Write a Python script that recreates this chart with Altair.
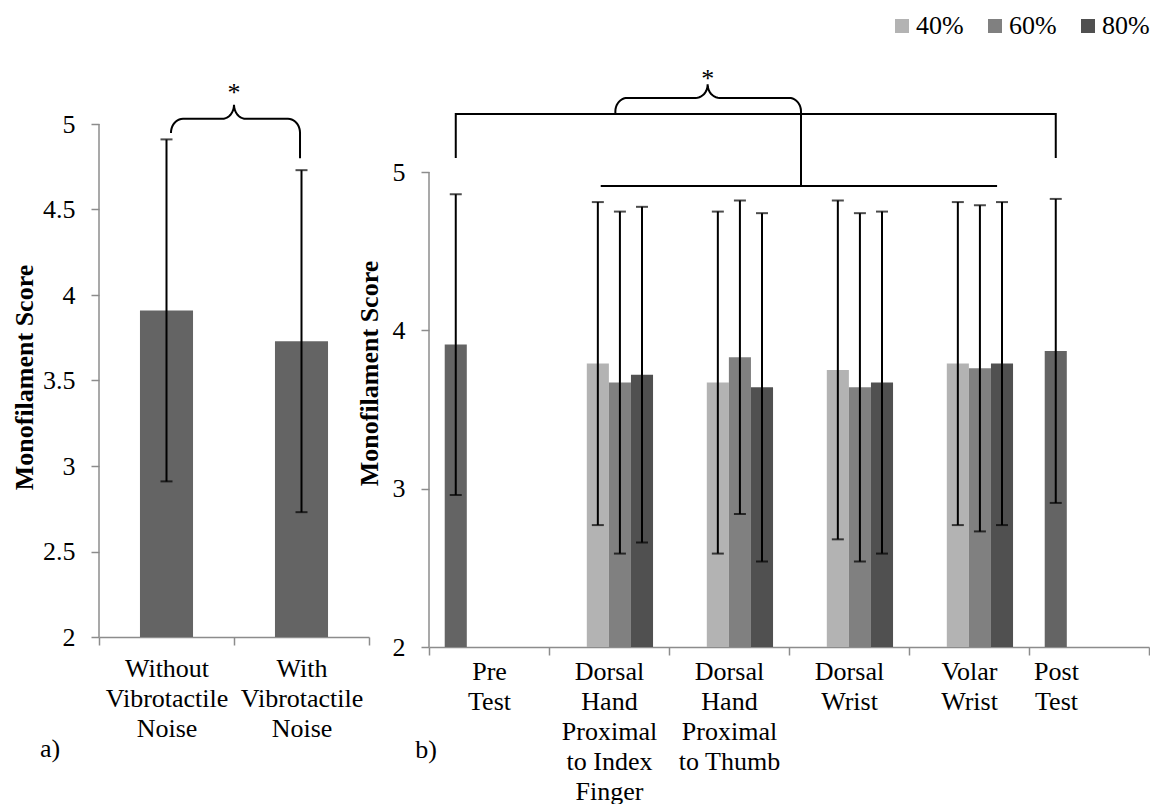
import math
import altair as alt
import pandas as pd

FONT = "Liberation Serif, Times New Roman, Times, serif"
AXIS_GRAY = "#8c8c8c"

# ---------------- panel a) data ----------------
a_conditions = ["Without|Vibrotactile|Noise", "With|Vibrotactile|Noise"]
a_means = [3.91, 3.73]
a_sd = [1.00, 1.00]
a_ticks = [2, 2.5, 3, 3.5, 4, 4.5, 5]

# ---------------- panel b) data ----------------
b_locations = [
    "Pre|Test",
    "Dorsal|Hand|Proximal|to Index|Finger",
    "Dorsal|Hand|Proximal|to Thumb",
    "Dorsal|Wrist",
    "Volar|Wrist",
    "Post|Test",
]
series_names = ["Pre/Post", "40%", "60%", "80%"]
series_colors = ["#646464", "#b3b3b3", "#808080", "#505050"]
legend_values = ["40%", "60%", "80%"]
prepost_means = [3.91, 3.87]
prepost_sd = [0.95, 0.96]
pct40_means = [3.79, 3.67, 3.75, 3.79]
pct40_sd = [1.02, 1.08, 1.07, 1.02]
pct60_means = [3.67, 3.83, 3.64, 3.76]
pct60_sd = [1.08, 0.99, 1.10, 1.03]
pct80_means = [3.72, 3.64, 3.67, 3.79]
pct80_sd = [1.06, 1.10, 1.08, 1.02]
b_ticks = [2, 3, 4, 5]

# ---------------- layout ----------------
A_W, A_H = 270, 561
B_W, B_H = 720, 571
A_YMAX = 2 + 3 * A_H / 513
B_YMAX = 2 + 3 * B_H / 475
A_BAR = 0.393            # bar width as fraction of a category band
B_GAP, B_SLOT = 0.131, 0.184
FS = 26

# ---------------- tables ----------------
df_a = pd.DataFrame({"condition": a_conditions, "mean": a_means, "sd": a_sd})
df_a["center"] = [i + 0.5 for i in range(len(a_conditions))]
df_a["left"] = df_a["center"] - A_BAR / 2
df_a["right"] = df_a["center"] + A_BAR / 2
df_a["lo"] = df_a["mean"] - df_a["sd"]
df_a["hi"] = df_a["mean"] + df_a["sd"]

rows = []


def add(cat, slot, mean, sd):
    left = cat + B_GAP + slot * B_SLOT
    rows.append(dict(location=b_locations[cat], series=series_names[slot], mean=mean,
                     lo=mean - sd, hi=mean + sd, left=left, right=left + B_SLOT,
                     center=left + B_SLOT / 2))


add(0, 0, prepost_means[0], prepost_sd[0])
for k in range(4):
    add(k + 1, 1, pct40_means[k], pct40_sd[k])
    add(k + 1, 2, pct60_means[k], pct60_sd[k])
    add(k + 1, 3, pct80_means[k], pct80_sd[k])
add(5, 0, prepost_means[1], prepost_sd[1])
df_b = pd.DataFrame(rows)


def brace(xa, ya, xd, yd, xc, yb, rx, ry, n=10):
    pts = [(xa, ya), (xa, yb - ry)]

    def arc(cx, cy, t0, t1):
        for k in range(1, n + 1):
            t = math.radians(t0 + (t1 - t0) * k / n)
            pts.append((cx + rx * math.cos(t), cy + ry * math.sin(t)))

    arc(xa + rx, yb - ry, 180, 90)
    pts.append((xc - rx, yb))
    arc(xc - rx, yb + ry, -90, 0)
    arc(xc + rx, yb + ry, 180, 270)
    pts.append((xd - rx, yb))
    arc(xd - rx, yb - ry, 90, 0)
    pts.append((xd, yd))
    return pts


def paths_df(paths):
    recs = []
    for pid, pts in enumerate(paths):
        for o, (x, y) in enumerate(pts):
            recs.append({"path": pid, "ord": o, "x": x, "y": y})
    return pd.DataFrame(recs)


a_paths = paths_df([brace(0.533, 4.947, 1.489, 4.80, 1.0, 5.03, 12 / 135, 0.082)])
pre_c = df_b["center"].iloc[0]
post_c = df_b["center"].iloc[-1]
b_paths = paths_df([
    [(pre_c, 5.089), (pre_c, 5.367), (post_c, 5.367), (post_c, 5.089)],
    [(1.431, 4.912), (4.734, 4.912)],
    [(3.10, 4.912), (3.10, 5.367)],
    brace(1.553, 5.367, 3.10, 5.367, 2.322, 5.468, 0.1, 0.085),
])
a_star = pd.DataFrame({"x": [1.0], "y": [5.18], "t": ["*"]})
b_star = pd.DataFrame({"x": [2.322], "y": [5.588], "t": ["*"]})
axis_span = pd.DataFrame({"y0": [2], "y1": [5]})


def x_axis(padding):
    return alt.Axis(title=None,
                    labelExpr="isValid(datum.value) ? split(datum.value, '|') : ''",
                    labelAngle=0, labelFont=FONT, labelFontSize=FS, labelColor="black",
                    labelLineHeight=30, labelBaseline="top", labelPadding=padding,
                    labelOverlap=False, labelLimit=400, tickBand="extent", tickSize=8,
                    tickColor=AXIS_GRAY, tickWidth=1.5, domainColor=AXIS_GRAY,
                    domainWidth=1.5, grid=False,
                    labelOffset={"condition": {"test": "datum.value == 'Post|Test'", "value": -33},
                                 "value": 0})


def y_axis(values, title_x, title_y):
    return alt.Axis(values=values, format="~g", domain=False, tickSize=8, tickColor=AXIS_GRAY,
                    tickWidth=1.5, labelFont=FONT, labelFontSize=FS, labelColor="black",
                    labelPadding=16, grid=False, title="Monofilament Score", titleFont=FONT,
                    titleFontSize=FS, titleFontWeight="bold", titleColor="black",
                    titleAngle=270, titleX=title_x, titleY=title_y, titleAlign="center",
                    titleBaseline="middle")


def panel(df, cats, ncat, width, height, ymax, yvals, title_x, title_y, paths, star,
          label_pad, tag, tag_pos, color_enc):
    xq = alt.Scale(domain=[0, ncat], nice=False, zero=False)
    yq = alt.Scale(domain=[2, ymax], nice=False, zero=False)
    axis_layer = alt.Chart(pd.DataFrame({"cat": cats})).mark_bar(opacity=0).encode(
        x=alt.X("cat:N", sort=cats,
                scale=alt.Scale(type="band", paddingInner=0, paddingOuter=0),
                axis=x_axis(label_pad)))
    base = alt.Chart(df)
    bars = base.mark_bar().encode(
        x=alt.X("left:Q", scale=xq, axis=None), x2="right:Q",
        y=alt.Y("mean:Q", scale=yq, axis=y_axis(yvals, title_x, title_y)),
        y2=alt.datum(2), **color_enc)
    err = base.mark_rule(color="black", strokeWidth=2).encode(
        x=alt.X("center:Q", scale=xq, axis=None), y="lo:Q", y2="hi:Q")
    cap_lo = base.mark_tick(color="black", thickness=2, size=12, orient="horizontal").encode(
        x=alt.X("center:Q", scale=xq, axis=None), y="lo:Q")
    cap_hi = base.mark_tick(color="black", thickness=2, size=12, orient="horizontal").encode(
        x=alt.X("center:Q", scale=xq, axis=None), y="hi:Q")
    yline = alt.Chart(axis_span).mark_rule(color=AXIS_GRAY, strokeWidth=1.5).encode(
        x=alt.value(0), y="y0:Q", y2="y1:Q")
    ann = alt.Chart(paths).mark_line(color="black", strokeWidth=2).encode(
        x=alt.X("x:Q", scale=xq, axis=None), y="y:Q", detail="path:N", order="ord:Q")
    ast = alt.Chart(star).mark_text(font=FONT, fontSize=26, color="black",
                                    baseline="middle").encode(
        x=alt.X("x:Q", scale=xq, axis=None), y="y:Q", text="t:N")
    tag_txt = alt.Chart(pd.DataFrame({"t": [tag]})).mark_text(
        font=FONT, fontSize=FS, color="black", baseline="middle", align="center").encode(
        x=alt.value(tag_pos[0]), y=alt.value(tag_pos[1]), text="t:N")
    inner = alt.layer(bars, err, cap_lo, cap_hi, yline, ann, ast, tag_txt)
    return alt.layer(axis_layer, inner).resolve_scale(x="independent").properties(
        width=width, height=height)


left = panel(df_a, a_conditions, 2, A_W, A_H, A_YMAX, a_ticks, -75, 301, a_paths, a_star,
             10, "a)", (-49, 673), {"color": alt.value("#646464")})

right = panel(df_b, b_locations, 6, B_W, B_H, B_YMAX, b_ticks, -60, 297, b_paths, b_star,
              3, "b)", (-3, 674),
              {"color": alt.Color("series:N",
                                  scale=alt.Scale(domain=series_names, range=series_colors),
                                  legend=alt.Legend(values=legend_values, title=None,
                                                    orient="none", direction="horizontal",
                                                    legendX=790, legendY=-63,
                                                    symbolType="square", symbolSize=196,
                                                    symbolStrokeWidth=0, labelFont=FONT,
                                                    labelFontSize=FS, labelColor="black",
                                                    columnPadding=18, labelOffset=1))})

chart = alt.hconcat(left, right, spacing=60, bounds="flush").properties(
    padding={"left": 3, "top": 5, "right": 0, "bottom": 0},
    background="white",
).configure_view(stroke=None)

chart.save("out.html", embed_options={"renderer": "svg", "actions": False})
